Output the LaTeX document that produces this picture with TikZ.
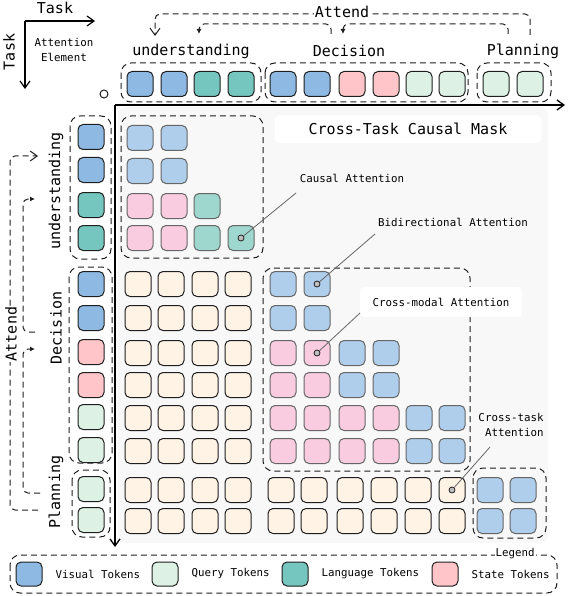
\documentclass[tikz,border=0pt]{standalone}
\usepackage{fontspec}
\setmonofont{DejaVu Sans Mono}
\usetikzlibrary{arrows.meta}

\definecolor{visual}{RGB}{142,185,227}
\definecolor{query}{RGB}{221,242,229}
\definecolor{lang}{RGB}{116,198,190}
\definecolor{state}{RGB}{255,197,200}
\definecolor{lblue}{RGB}{174,206,236}
\definecolor{lpink}{RGB}{249,205,223}
\definecolor{lteal}{RGB}{157,215,205}
\definecolor{peach}{RGB}{255,243,230}
\definecolor{panel}{RGB}{248,248,248}
\definecolor{ink}{RGB}{30,30,30}

\begin{document}
\begin{tikzpicture}[x=1pt, y=-1pt,
  tok/.style={rectangle, draw=ink, line width=1pt, rounded corners=5pt, minimum width=26pt, minimum height=25pt, inner sep=0pt, fill=#1},
  msk/.style={tok=#1, draw=black!60},
  grp/.style={draw=ink, line width=1pt, dash pattern=on 6pt off 4pt, rounded corners=10pt},
  lab/.style={font=\ttfamily\fontsize{15}{17}\selectfont, inner sep=1pt},
  note/.style={font=\ttfamily\fontsize{10.8}{15}\selectfont, inner sep=1pt},
  att/.style={draw=ink, line width=1pt, dash pattern=on 6pt off 4pt, rounded corners=5pt},
  ptr/.style={draw=black!60, line width=0.8pt},
  dot/.style={circle, draw=ink, fill=black!25, minimum size=6pt, inner sep=0pt, line width=0.8pt},
  barb/.style={-{Straight Barb[length=7pt,width=10pt]}},
  tri/.style={-{Latex[length=5pt,width=5pt]}}
]
\useasboundingbox (0,0) rectangle (569,596);

% panel behind the mask
\fill[panel, rounded corners=8pt] (118,107) rectangle (548,543);
\node[lab, fill=white, rounded corners=6pt, minimum width=267pt, minimum height=28pt] (title) at (408,129) {Cross-Task Causal Mask};

% axes
\coordinate (o) at (115,105);
\coordinate (xe) at (565,105);
\coordinate (ye) at (115,547);
\draw[line width=1.3pt, barb] (o) -- (xe);
\draw[line width=1.3pt, barb] (o) -- (ye);
\node[circle, draw=ink, line width=1pt, minimum size=8pt, inner sep=0pt] (orig) at (104,94) {};

% key in the corner
\coordinate (t0) at (25,21);
\coordinate (tx) at (95,21);
\coordinate (ty) at (25,89);
\draw[line width=1.2pt, barb] (t0) -- (tx);
\draw[line width=1.2pt, barb] (t0) -- (ty);
\node[lab] (taskx) at (55,8) {Task};
\node[lab, rotate=90] (tasky) at (9,52) {Task};
\node[note, align=center] (elem) at (64,50) {Attention\\Element};

% top tokens
\foreach \x/\c [count=\i] in {140/visual,174/visual,207/lang,241/lang}
  \node[tok=\c] (tu\i) at (\x,84) {};
\foreach \x/\c [count=\i] in {283/visual,317/visual,352/state,386/state,419/query,452/query}
  \node[tok=\c] (td\i) at (\x,84) {};
\foreach \x [count=\i] in {496,530}
  \node[tok=query] (tp\i) at (\x,84) {};
\draw[grp] (121,63) rectangle (261,102);
\draw[grp] (265,63) rectangle (468,102);
\draw[grp] (477,63) rectangle (551,102);

\node[lab] (und) at (191,51) {understanding};
\node[lab] (dec) at (349,51) {Decision};
\node[lab] (plan) at (523,51) {Planning};

% left tokens
\foreach \y/\c [count=\i] in {137/visual,170/visual,205/lang,238/lang}
  \node[tok=\c] (lu\i) at (91,\y) {};
\foreach \y/\c [count=\i] in {284/visual,318/visual,352/state,385/state,417/query,450/query}
  \node[tok=\c] (ld\i) at (91,\y) {};
\foreach \y [count=\i] in {489,520}
  \node[tok=query] (lp\i) at (91,\y) {};
\draw[grp] (70,116) rectangle (111,259);
\draw[grp] (69,267) rectangle (112,463);
\draw[grp] (72,470) rectangle (110,537);

\node[lab, rotate=90] (undL) at (56,191) {understanding};
\node[lab, rotate=90] (decL) at (56,328) {Decision};
\node[lab, rotate=90] (planL) at (56,492) {Planning};

% attend arrows on top
\coordinate (pA) at (530,35);
\coordinate (uA) at (155,36);
\coordinate (pB) at (508,34);
\coordinate (dB) at (343,34);
\coordinate (dC) at (331,34);
\coordinate (uC) at (199,34);
\draw[att, barb] (pA) -- ++(0,-21) -| (uA);
\draw[att, tri] (pB) -- ++(0,-10) -| (dB);
\draw[att, tri] (dC) -- ++(0,-10) -| (uC);
\node[lab, fill=white] (attT) at (342,12) {Attend};

% attend arrows on the left
\coordinate (pL1) at (38,510);
\coordinate (uL1) at (38,156);
\coordinate (pL2) at (40,493);
\coordinate (dL2) at (35,349);
\coordinate (dL3) at (35,332);
\coordinate (uL3) at (35,199);
\draw[att, barb] (pL1) -- ++(-28,0) |- (uL1);
\draw[att, tri] (pL2) -- ++(-17,0) |- (dL2);
\draw[att, tri] (dL3) -- ++(-12,0) |- (uL3);
\node[lab, rotate=90, fill=white] (attL) at (11,334) {Attend};

% mask: understanding block
\foreach \x/\y/\c [count=\i] in {140/138/lblue,174/138/lblue,140/171/lblue,174/171/lblue,
    140/206/lpink,174/206/lpink,207/206/lteal,
    140/238/lpink,174/238/lpink,207/238/lteal,241/238/lteal}
  \node[msk=\c] (mu\i) at (\x,\y) {};
\draw[grp] (121,116) rectangle (263,258);

% mask: decision rows
\foreach \y [count=\r] in {284,318,353,385,418,451}
  \foreach \x [count=\c] in {138,171,205,238}
    \node[tok=peach] (xd\r-\c) at (\x,\y) {};
\foreach \x/\y/\c [count=\i] in {283/284/lblue,317/284/lblue,283/318/lblue,317/318/lblue,
    283/353/lpink,317/353/lpink,352/353/lblue,386/353/lblue,
    283/385/lpink,317/385/lpink,352/385/lblue,386/385/lblue,
    283/418/lpink,317/418/lpink,352/418/lpink,386/418/lpink,419/418/lblue,452/418/lblue,
    283/451/lpink,317/451/lpink,352/451/lpink,386/451/lpink,419/451/lblue,452/451/lblue}
  \node[msk=\c] (md\i) at (\x,\y) {};
\draw[grp] (263,268) rectangle (470,471);

% mask: planning rows
\foreach \y [count=\r] in {490,521}
  \foreach \x [count=\c] in {138,171,205,238,281,314,350,384,418,452}
    \node[tok=peach] (xp\r-\c) at (\x,\y) {};
\foreach \x/\y [count=\i] in {490/490,523/490,490/521,523/521}
  \node[msk=lblue] (mp\i) at (\x,\y) {};
\draw[grp] (473,468) rectangle (546,538);

% callouts
\node[dot] (dotU) at (mu11) {};
\node[dot] (dotB) at (md2) {};
\node[dot] (dotM) at (md6) {};
\node[dot] (dotT) at (xp1-10) {};
\node[note] (causal) at (352,178) {Causal Attention};
\node[note] (bidir) at (453,222) {Bidirectional Attention};
\node[note, fill=white, rounded corners=4pt, minimum width=162pt, minimum height=30pt] (xmod) at (441,302) {Cross-modal Attention};
\node[note, align=right] (xtask) at (511,425) {Cross-task\\Attention};
\coordinate (causalEnd) at (296,193);
\coordinate (bidirEnd) at (375,234);
\coordinate (xmodEnd) at (360,313);
\coordinate (xtaskEnd) at (490,447);
\draw[ptr] (dotU) -- (causalEnd);
\draw[ptr] (dotB) -- (bidirEnd);
\draw[ptr] (dotM) -- (xmodEnd);
\draw[ptr] (dotT) -- (xtaskEnd);

% legend
\draw[grp] (10,555) rectangle (557,593);
\node[note, fill=white] (leg) at (515,554) {Legend};
\foreach \x/\c/\t [count=\i] in {29/visual/Visual Tokens,165/query/Query Tokens,295/lang/Language Tokens,445/state/State Tokens} {
  \node[tok=\c, minimum height=24pt] (sw\i) at (\x,574) {};
  \node[note, anchor=west] (sl\i) at ([xshift=12pt]sw\i.east) {\t};
}
\end{tikzpicture}
\end{document}
